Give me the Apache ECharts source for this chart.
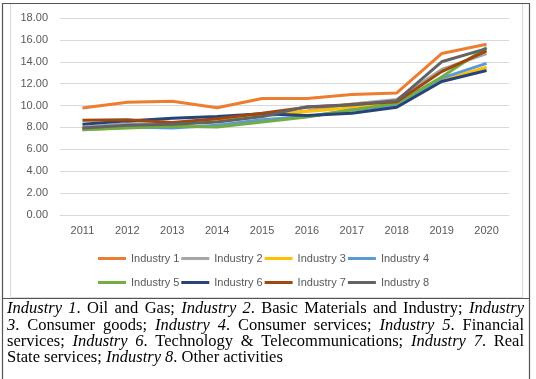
<!DOCTYPE html>
<html>
<head>
<meta charset="utf-8">
<script src="https://cdn.jsdelivr.net/npm/echarts@6/dist/echarts.min.js"></script>
<style>
html,body{margin:0;padding:0;background:#fff;}
#chart{width:536px;height:379px;}
</style>
</head>
<body>
<div id="chart"></div>
<script>
const years = ['2011','2012','2013','2014','2015','2016','2017','2018','2019','2020'];
const seriesNames = ['Industry 1','Industry 2','Industry 3','Industry 4','Industry 5','Industry 6','Industry 7','Industry 8'];
const ind1 = [9.78, 10.3, 10.4, 9.8, 10.65, 10.65, 11.0, 11.15, 14.75, 15.6];
const ind2 = [8.0, 8.35, 8.3, 8.6, 9.0, 9.5, 10.15, 10.55, 13.3, 14.75];
const ind3 = [7.8, 8.0, 8.25, 8.6, 9.2, 9.45, 9.8, 10.15, 12.3, 13.5];
const ind4 = [7.9, 8.05, 7.95, 8.2, 8.7, 9.0, 9.6, 10.0, 12.5, 13.85];
const ind5 = [7.8, 7.95, 8.1, 8.05, 8.5, 8.95, 9.6, 10.2, 12.6, 15.3];
const ind6 = [8.3, 8.6, 8.85, 9.0, 9.25, 9.1, 9.3, 9.85, 12.2, 13.2];
const ind7 = [8.65, 8.7, 8.45, 8.8, 9.3, 9.85, 10.1, 10.35, 13.1, 15.0];
const ind8 = [7.95, 8.2, 8.3, 8.5, 9.0, 9.9, 10.05, 10.45, 14.0, 15.2];
const yTicks = [0, 2, 4, 6, 8, 10, 12, 14, 16, 18];
const captionLines = [
  [['Industry 1', 1], ['. Oil and Gas; ', 0], ['Industry 2', 1], ['. Basic Materials and Industry; ', 0], ['Industry', 1]],
  [['3', 1], ['. Consumer goods; ', 0], ['Industry 4', 1], ['. Consumer services; ', 0], ['Industry 5', 1], ['. Financial', 0]],
  [['services; ', 0], ['Industry 6', 1], ['. Technology & Telecommunications; ', 0], ['Industry 7', 1], ['. Real', 0]],
  [['State services; ', 0], ['Industry 8', 1], ['. Other activities', 0]]
];

const allData = [ind1, ind2, ind3, ind4, ind5, ind6, ind7, ind8];
const colors = ['#ED7D31','#A5A5A5','#FFC000','#5B9BD5','#70AD47','#264478','#9E480E','#636363'];
const SANS = '"Liberation Sans", Arial, sans-serif';

const chart = echarts.init(document.getElementById('chart'), null, {renderer: 'canvas'});

// caption layout (justified)
const FONT_SIZE = 16.5;
const FONT_FAMILY = '"Liberation Serif", "Times New Roman", serif';
const cv = document.createElement('canvas').getContext('2d');
function measure(text, italic) {
  cv.font = (italic ? 'italic ' : '') + FONT_SIZE + 'px ' + FONT_FAMILY;
  return cv.measureText(text).width;
}
const capLeft = 7, capRight = 524, firstCenter = 309, lineH = 16.3;
const captionGraphics = [];
captionLines.forEach((segs, li) => {
  const words = [];
  let cur = [];
  segs.forEach(([t, it]) => {
    const parts = t.split(' ');
    parts.forEach((p, pi) => {
      if (pi > 0) { if (cur.length) words.push(cur); cur = []; }
      if (p.length) cur.push([p, it]);
    });
  });
  if (cur.length) words.push(cur);
  const widths = words.map(w => w.reduce((s, [t, it]) => s + measure(t, it), 0));
  const total = widths.reduce((a, b) => a + b, 0);
  const justify = li < captionLines.length - 1;
  const gap = justify ? (capRight - capLeft - total) / (words.length - 1) : measure(' ', 0);
  let x = capLeft;
  const y = firstCenter + lineH * li;
  words.forEach((w, wi) => {
    let xx = x;
    w.forEach(([t, it]) => {
      captionGraphics.push({
        type: 'text', x: xx, y: y, silent: true,
        style: {text: t, fontSize: FONT_SIZE, fontFamily: FONT_FAMILY, fontStyle: it ? 'italic' : 'normal',
                fill: '#000', verticalAlign: 'middle', align: 'left'}
      });
      xx += measure(t, it);
    });
    x += widths[wi] + gap;
  });
});

const legendText = {color: '#595959', fontSize: 11, fontFamily: SANS};
const option = {
  backgroundColor: '#fff',
  animation: false,
  color: colors,
  grid: {left: 60, right: 27, top: 18, bottom: 164, containLabel: false},
  xAxis: {
    type: 'category', data: years, boundaryGap: true,
    axisLine: {show: true, lineStyle: {color: '#d9d9d9', width: 1}},
    axisTick: {show: false},
    axisLabel: {color: '#595959', fontSize: 11, fontFamily: SANS, margin: 10}
  },
  yAxis: {
    type: 'value', min: yTicks[0], max: yTicks[yTicks.length - 1], interval: 2,
    axisLine: {show: false}, axisTick: {show: false},
    splitLine: {lineStyle: {color: '#d9d9d9', width: 1}},
    axisLabel: {color: '#595959', fontSize: 11, fontFamily: SANS, margin: 12,
      formatter: v => v.toFixed(2)}
  },
  legend: [
    {data: seriesNames.slice(0, 4), left: 93, top: 248, itemWidth: 28, itemHeight: 3, itemGap: 2, icon: 'rect', textStyle: legendText},
    {data: seriesNames.slice(4, 8), left: 93, top: 272, itemWidth: 28, itemHeight: 3, itemGap: 2, icon: 'rect', textStyle: legendText}
  ],
  series: allData.map((d, i) => ({
    name: seriesNames[i], type: 'line', data: d, showSymbol: false, symbol: 'none',
    lineStyle: {width: 3, color: colors[i]}, itemStyle: {color: colors[i]}
  })),
  graphic: [
    {type: 'rect', silent: true, shape: {x: 10.5, y: 3.5, width: 512, height: 294}, style: {fill: 'none', stroke: '#d9d9d9', lineWidth: 1}},
    {type: 'rect', silent: true, shape: {x: 2.5, y: 3.5, width: 527, height: 380}, style: {fill: 'none', stroke: '#555', lineWidth: 1.2}},
    {type: 'line', silent: true, shape: {x1: 2.5, y1: 298.5, x2: 529.5, y2: 298.5}, style: {stroke: '#555', lineWidth: 1.2}}
  ].concat(captionGraphics)
};
chart.setOption(option);
</script>
</body>
</html>
